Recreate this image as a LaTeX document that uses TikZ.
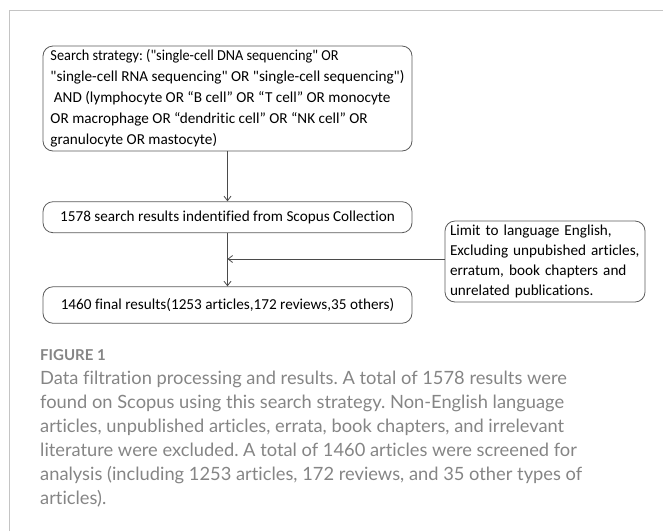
\documentclass[tikz,border=0pt]{standalone}
\usepackage{fontspec}
\newfontfamily\boxfont{Carlito}[Ligatures=NoCommon]
\newfontfamily\capfont{Lato}[Ligatures=NoCommon]
\usetikzlibrary{arrows.meta}
\definecolor{framegray}{HTML}{C4C4C4}
\definecolor{boxgray}{HTML}{5A5A5A}
\definecolor{linegray}{HTML}{4A4A4A}
\definecolor{capgray}{HTML}{858585}
\frenchspacing
\begin{document}
\begin{tikzpicture}[x=1pt,y=-1pt,
  box/.style={draw=boxgray,line width=0.8pt,rounded corners=10pt,minimum width=369pt,
    inner sep=0pt,font=\boxfont\fontsize{15.2}{21}\selectfont,text=black},
  sidebox/.style={draw=boxgray,line width=0.8pt,rounded corners=10pt,minimum width=200pt,
    minimum height=81pt,inner sep=0pt,text width=190pt,align=left,
    font=\boxfont\fontsize{15.2}{20}\selectfont,text=black},
  conn/.style={draw=linegray,line width=0.8pt,-{Straight Barb[length=4.5pt,width=7pt]}},
  capline/.style={anchor=base west,inner sep=0pt,text=capgray,font=\capfont\fontsize{18.3}{24}\selectfont}
]
\useasboundingbox (0,0) rectangle (663,531);
% frame
\draw[framegray,line width=1.2pt] (9.3,531) -- (9.3,10.3) -- (663,10.3);

% boxes
\node[box,minimum height=101pt] (search) at (227.5,98.5)
  {\begin{tabular}{@{}l@{}}
   \scalebox{0.94}[1]{Search strategy: ("single-cell DNA sequencing" OR}\\
   "single-cell RNA sequencing" OR "single-cell sequencing")\\
   \ AND (lymphocyte OR “B cell” OR “T cell” OR monocyte\\
   OR macrophage OR “dendritic cell” OR “NK cell” OR\\
   granulocyte OR mastocyte)
   \end{tabular}};
\node[box,minimum height=31pt] (found) at (227.5,217.2)
  {1578 search results indentified from Scopus Collection};
\node[box,minimum height=36.5pt] (final) at (227.5,305)
  {1460 final results(1253 articles,172 reviews,35 others)};
\node[sidebox] (limit) at (545,261.5)
  {Limit to language English,\\
   Excluding unpubished articles,\\
   erratum, book chapters and\\
   unrelated publications.};

\coordinate (join) at (227.5,259);
\draw[conn] (search.south) -- (found.north);
\draw[conn] (found.south) -- (final.north);
\draw[conn] (limit.west |- join) -- (join);

% caption
\node[anchor=base west,inner sep=0pt,text=capgray,font=\capfont\bfseries\fontsize{15}{18}\selectfont] (figlabel) at (40,360) {FIGURE 1};
\node[capline] (c1) at (40,384) {Data filtration processing and results. A total of 1578 results were};
\node[capline] (c2) at (40,408) {found on Scopus using this search strategy. Non-English language};
\node[capline] (c3) at (40,432) {articles, unpublished articles, errata, book chapters, and irrelevant};
\node[capline] (c4) at (40,456) {literature were excluded. A total of 1460 articles were screened for};
\node[capline] (c5) at (40,480) {analysis (including 1253 articles, 172 reviews, and 35 other types of};
\node[capline] (c6) at (40,504) {articles).};
\end{tikzpicture}
\end{document}
